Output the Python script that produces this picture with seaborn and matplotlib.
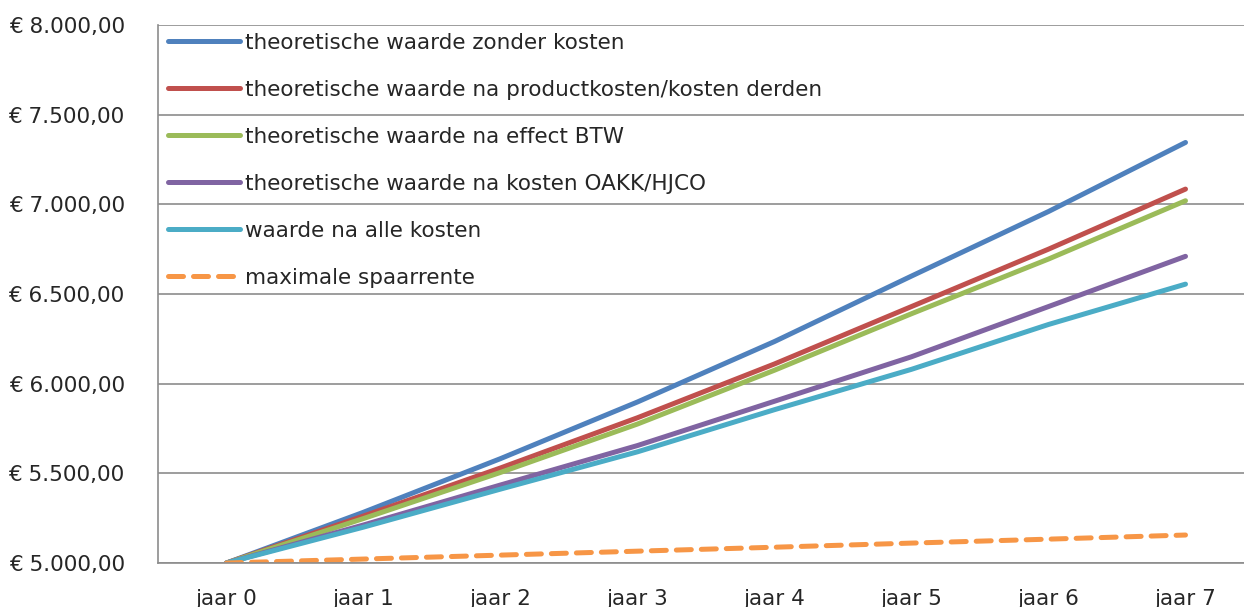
import pandas as pd
import numpy as np
import matplotlib.pyplot as plt
import seaborn as sns
from matplotlib.ticker import FuncFormatter, FixedLocator

# Data
jaren = ['jaar 0', 'jaar 1', 'jaar 2', 'jaar 3', 'jaar 4', 'jaar 5', 'jaar 6', 'jaar 7']
reeksen = ['theoretische waarde zonder kosten',
           'theoretische waarde na productkosten/kosten derden',
           'theoretische waarde na effect BTW',
           'theoretische waarde na kosten OAKK/HJCO',
           'waarde na alle kosten',
           'maximale spaarrente']
zonder_kosten = [5000, 5283, 5582, 5898, 6235, 6600, 6960, 7345]
na_productkosten = [5000, 5262, 5530, 5810, 6110, 6430, 6750, 7085]
na_btw = [5000, 5248, 5505, 5775, 6075, 6390, 6695, 7020]
na_oakk = [5000, 5212, 5435, 5655, 5902, 6150, 6430, 6710]
na_alle_kosten = [5000, 5200, 5412, 5620, 5855, 6080, 6330, 6555]
spaarrente = [5000, 5022, 5044, 5066, 5088, 5111, 5133, 5156]

waarden = [zonder_kosten, na_productkosten, na_btw, na_oakk, na_alle_kosten, spaarrente]
kleuren = ['#4F81BD', '#C0504D', '#9BBB59', '#8064A2', '#4BACC6', '#F79646']

rijen = []
for naam, reeks in zip(reeksen, waarden):
    for i, v in enumerate(reeks):
        rijen.append({'jaar': i, 'waarde': v, 'reeks': naam})
df = pd.DataFrame(rijen)

sns.set_style("white")
plt.rcParams['font.family'] = ['DejaVu Sans']
tekst = '#262626'
grijs = '#8c8c8c'
fs = 15.5

fig = plt.figure(figsize=(12.44, 6.07), dpi=100)
ax = fig.add_axes([158 / 1244, 1 - 563 / 607, 1096 / 1244, 538 / 607])

sns.lineplot(data=df, x='jaar', y='waarde', hue='reeks', style='reeks',
             hue_order=reeksen, style_order=reeksen,
             palette=kleuren, dashes=[''] * 5 + [(3, 2)],
             linewidth=3.6, ax=ax, legend=False)
for lijn in ax.lines:
    lijn.set_solid_capstyle('round')
    lijn.set_dash_capstyle('round')

ax.set_xlim(-0.5, 7.5)
ax.set_ylim(5000, 8000)
ax.set_yticks(np.arange(5000, 8001, 500))
ax.yaxis.set_major_formatter(FuncFormatter(
    lambda v, p: '€ ' + f'{v:,.2f}'.replace(',', 'X').replace('.', ',').replace('X', '.')))

# categorie-labels in het midden, streepjes op de grenzen
ax.xaxis.set_major_locator(FixedLocator(np.arange(-0.5, 8.0, 1)))
ax.xaxis.set_minor_locator(FixedLocator(range(len(jaren))))
ax.set_xticklabels([])
ax.set_xticklabels(jaren, minor=True)
ax.tick_params(axis='x', which='major', length=8, width=1.2, color=grijs, direction='out')
ax.tick_params(axis='x', which='minor', length=0, pad=19, labelsize=fs, labelcolor=tekst)
ax.tick_params(axis='y', length=8, width=1.2, color=grijs, direction='out', pad=16,
               labelsize=fs, labelcolor=tekst)

ax.grid(axis='y', color=grijs, linewidth=1.2)
ax.set_axisbelow(True)
for kant in ['top', 'right']:
    ax.spines[kant].set_visible(False)
for kant in ['left', 'bottom']:
    ax.spines[kant].set_color(grijs)
    ax.spines[kant].set_linewidth(1.2)
ax.set_xlabel('')
ax.set_ylabel('')

handles = [plt.Line2D([], [], color=k, linewidth=3.6, solid_capstyle='round',
                      dash_capstyle='round', linestyle='-' if i < 5 else (0, (3, 2)))
           for i, k in enumerate(kleuren)]
leg = ax.legend(handles, reeksen, loc='upper left', bbox_to_anchor=(10 / 1096, 1 - 8 / 538),
                frameon=False, fontsize=fs, handlelength=3.35, handletextpad=0.23,
                labelspacing=1.25, borderpad=0, borderaxespad=0)
for t in leg.get_texts():
    t.set_color(tekst)

plt.savefig('out.png', dpi=100, facecolor='white')
